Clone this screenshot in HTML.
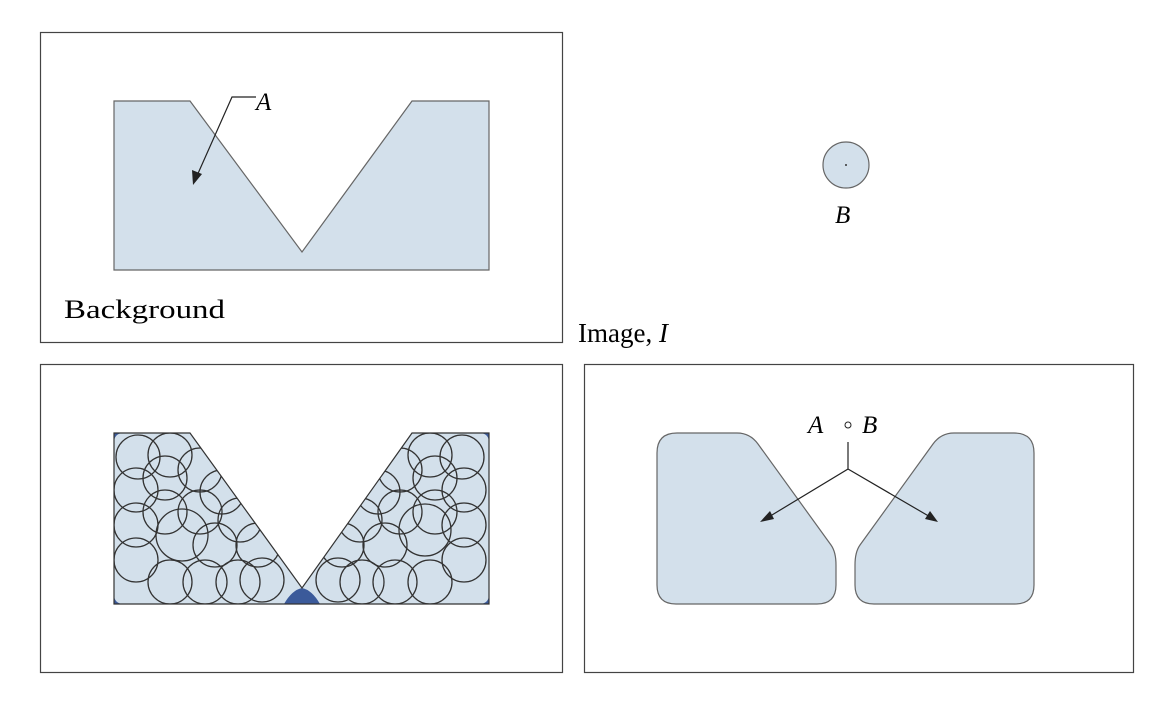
<!DOCTYPE html>
<html><head><style>body{margin:0;background:#fff}svg{display:block}</style></head><body>
<svg width="1174" height="707" xmlns="http://www.w3.org/2000/svg" font-family="Liberation Serif, serif">
<defs>
<clipPath id="c"><polygon points="114,433 190,433 302,588 412,433 489,433 489,604 114,604"/></clipPath>
</defs>
<rect x="40.5" y="32.5" width="522" height="310" fill="none" stroke="#444" stroke-width="1.2"/>
<rect x="40.5" y="364.5" width="522" height="308" fill="none" stroke="#444" stroke-width="1.2"/>
<rect x="584.5" y="364.5" width="549" height="308" fill="none" stroke="#444" stroke-width="1.2"/>
<polygon points="114,101 190,101 302,252 412,101 489,101 489,270 114,270" fill="#d3e0eb" stroke="#666" stroke-width="1.2"/>
<path d="M256,97 H232 L196,178" fill="none" stroke="#222" stroke-width="1.2"/>
<polygon points="193,185 192,170 202,174" fill="#222"/>
<text x="256" y="110" font-size="25" font-style="italic">A</text>
<text x="64" y="318" font-size="26" textLength="161" lengthAdjust="spacingAndGlyphs">Background</text>
<text x="578" y="342" font-size="27" textLength="90" lengthAdjust="spacingAndGlyphs">Image, <tspan font-style="italic">I</tspan></text>
<circle cx="846" cy="165" r="23" fill="#d3e0eb" stroke="#666" stroke-width="1.2"/>
<circle cx="846" cy="165" r="1" fill="#333"/>
<text x="835" y="223" font-size="25" font-style="italic">B</text>
<polygon points="114,433 190,433 302,588 412,433 489,433 489,604 114,604" fill="#3b5a9a"/>
<g clip-path="url(#c)">
<path d="M124,433 H190 L302,588 L412,433 H479 Q489,433 489,443 V594 Q489,604 479,604 H320 Q312,590 302,588 Q292,590 284,604 H124 Q114,604 114,594 V443 Q114,433 124,433 Z" fill="#d3e0eb"/>
<g fill="none" stroke="#333" stroke-width="1.3">
<circle cx="138" cy="457" r="22"/><circle cx="170" cy="455" r="22"/><circle cx="136" cy="490" r="22"/><circle cx="165" cy="478" r="22"/>
<circle cx="200" cy="470" r="22"/><circle cx="222" cy="492" r="22"/><circle cx="240" cy="520" r="22"/><circle cx="258" cy="545" r="22"/>
<circle cx="136" cy="525" r="22"/><circle cx="136" cy="560" r="22"/>
<circle cx="170" cy="582" r="22"/><circle cx="205" cy="582" r="22"/><circle cx="238" cy="582" r="22"/><circle cx="262" cy="580" r="22"/>
<circle cx="215" cy="545" r="22"/><circle cx="200" cy="512" r="22"/><circle cx="165" cy="512" r="22"/>
<circle cx="182" cy="535" r="26"/>
<circle cx="462" cy="457" r="22"/><circle cx="430" cy="455" r="22"/><circle cx="464" cy="490" r="22"/><circle cx="435" cy="478" r="22"/>
<circle cx="400" cy="470" r="22"/><circle cx="378" cy="492" r="22"/><circle cx="360" cy="520" r="22"/><circle cx="342" cy="545" r="22"/>
<circle cx="464" cy="525" r="22"/><circle cx="464" cy="560" r="22"/>
<circle cx="430" cy="582" r="22"/><circle cx="395" cy="582" r="22"/><circle cx="362" cy="582" r="22"/><circle cx="338" cy="580" r="22"/>
<circle cx="385" cy="545" r="22"/><circle cx="400" cy="512" r="22"/><circle cx="435" cy="512" r="22"/>
<circle cx="425" cy="530" r="26"/>
</g>
</g>
<polygon points="114,433 190,433 302,588 412,433 489,433 489,604 114,604" fill="none" stroke="#333" stroke-width="1.2"/>
<path d="M677,433 H737 Q750,433 758,444 L831,545 Q836,552 836,565 V585 Q836,604 817,604 H676 Q657,604 657,585 V453 Q657,433 677,433 Z" fill="#d3e0eb" stroke="#666" stroke-width="1.2"/>
<path d="M1014,433 H954 Q941,433 933,444 L860,545 Q855,552 855,565 V585 Q855,604 874,604 H1015 Q1034,604 1034,585 V453 Q1034,433 1014,433 Z" fill="#d3e0eb" stroke="#666" stroke-width="1.2"/>
<text x="808" y="433" font-size="25" font-style="italic">A</text>
<circle cx="848" cy="425" r="3" fill="none" stroke="#222" stroke-width="1"/>
<text x="862" y="433" font-size="25" font-style="italic">B</text>
<path d="M848,442 V469 L767,518 M848,469 L932,518" fill="none" stroke="#222" stroke-width="1.2"/>
<polygon points="760,522 770,511 774,519" fill="#222"/>
<polygon points="938,522 925,519 930,511" fill="#222"/>
</svg>
</body></html>
